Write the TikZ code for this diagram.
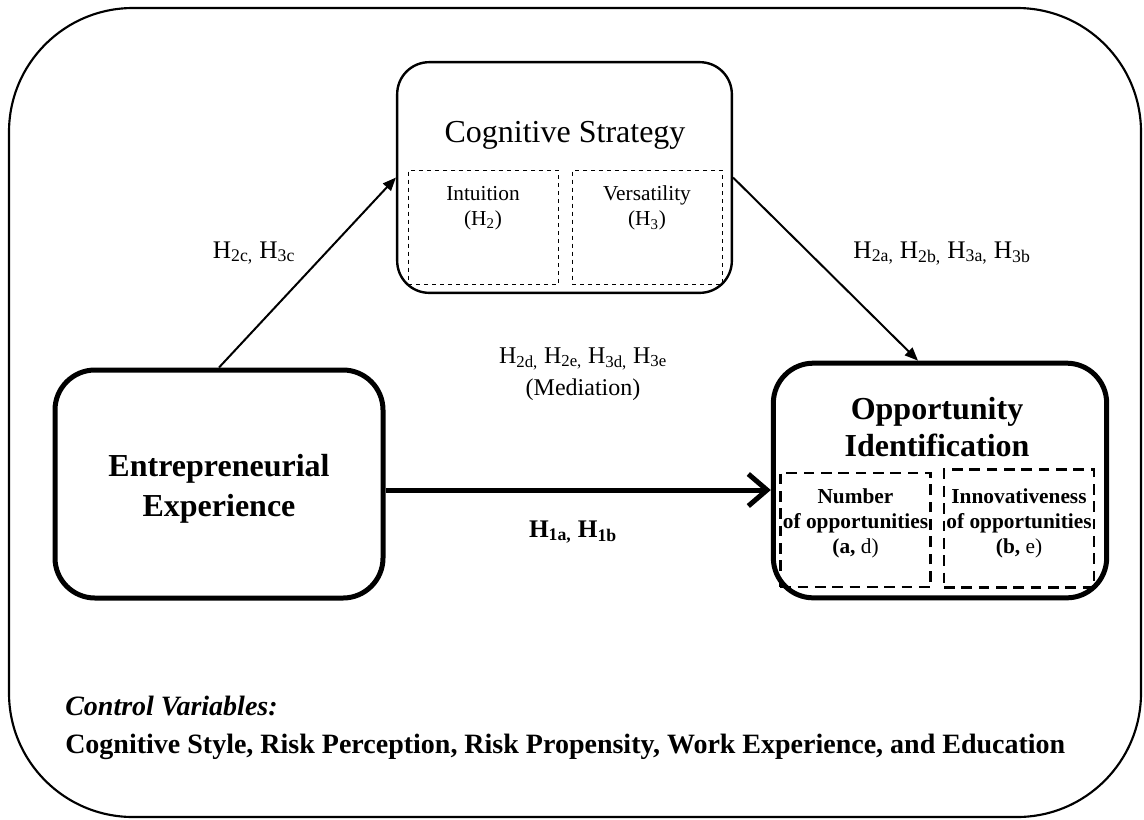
\documentclass[tikz,border=0pt]{standalone}
\usepackage{fontspec}
\setmainfont{Liberation Serif}
\usetikzlibrary{positioning}
\usetikzlibrary{calc}
\usetikzlibrary{arrows.meta}
\tikzset{box/.style = {draw, inner sep = 0, rounded corners = 30pt},
  thinbox/.style = {box, line width = 1.8pt, rounded corners = 24pt},
  thickbox/.style = {box, line width = 3.75pt},
  subbox/.style = {draw, dashed, line width = 0.75pt, inner sep = 0},
  boldsub/.style = {draw, line width = 2.2pt, dash pattern = on 8pt off 5pt, inner sep = 0},
  lbl/.style = {font = \fontsize{19}{24}\selectfont, align = center, inner sep = 0},
  sublbl/.style = {font = \fontsize{16}{19}\selectfont, align = center, inner sep = 0},
  thinarrow/.style = {line width = 1.5pt, -{Triangle[length = 10pt, width = 8pt]}},
  thickarrow/.style = {line width = 3.75pt, -{Straight Barb[length = 14pt, width = 24pt]}}}

\begin{document}
\begin{tikzpicture}[x = 0.75pt, y = -0.75pt]
    \useasboundingbox (0,0) rectangle (1144,819);
    \draw[line width = 1.6pt, rounded corners = 93pt] (9,8) rectangle (1141,817);
    % boxes
    \node[thinbox, minimum width = 251pt, minimum height = 173pt] (cog) at (564.5,177.5) {};
    \node[thickbox, minimum width = 246pt, minimum height = 171pt] (exp) at (219,484) {};
    \node[thickbox, minimum width = 250pt, minimum height = 176pt] (opp) at (940,480.5) {};
    \node[subbox, minimum width = 112.5pt, minimum height = 86pt] (intu) at (483,227.5) {};
    \node[subbox, minimum width = 112.5pt, minimum height = 86pt] (vers) at (647,227.5) {};
    \node[boldsub, minimum width = 113pt, minimum height = 85.5pt] (num) at (855.5,530) {};
    \node[boldsub, minimum width = 112.5pt, minimum height = 88pt] (inno) at (1019,528.5) {};
    % texts
    \node[anchor = base, font = \fontsize{24}{28}\selectfont] (cogtitle) at (565,142) {Cognitive Strategy};
    \node[sublbl] (intutext) at (483,208) {Intuition\\(H\textsubscript{2})};
    \node[sublbl] (verstext) at (647,208) {Versatility\\(H\textsubscript{3})};
    \node[align = center, font = \fontsize{24}{30}\bfseries\selectfont] (exptext) at (219,489)
        {Entrepreneurial\\Experience};
    \node[align = center, font = \fontsize{24}{28}\bfseries\selectfont] (opptext) at (937,427)
        {Opportunity\\Identification};
    \node[sublbl, font = \fontsize{16}{18.75}\bfseries\selectfont] (numtext) at (855.5,523)
        {Number\\of opportunities\\(\textbf{a}, \mdseries d)};
    \node[sublbl, font = \fontsize{16}{18.75}\bfseries\selectfont] (innotext) at (1019,523)
        {Innovativeness\\of opportunities\\(\textbf{b}, \mdseries e)};
    % arrows
    \coordinate (tipb) at ($(opp.north)+(-22,0)$);
    \coordinate (h1) at ($(exp.east)+(0,6)$);
    \draw[thinarrow] (exp.north) -- (cog.west);
    \draw[thinarrow] (cog.east) -- (tipb);
    \draw[thickarrow] (h1) -- (h1 -| opp.west);
    % labels
    \node[lbl, anchor = base] (hc) at (254,258) {H\textsubscript{2c,} H\textsubscript{3c}};
    \node[lbl, anchor = base] (hab) at (942,258)
        {H\textsubscript{2a,} H\textsubscript{2b,} H\textsubscript{3a,} H\textsubscript{3b}};
    \node[lbl, font = \fontsize{18}{24}\selectfont] (hmed) at (583,374)
        {H\textsubscript{2d,} H\textsubscript{2e,} H\textsubscript{3d,} H\textsubscript{3e}\\(Mediation)};
    \node[lbl, anchor = base, font = \fontsize{19}{24}\bfseries\selectfont] (hone) at (573,537)
        {H\textsubscript{1a,} H\textsubscript{1b}};
    \node[anchor = base west, inner sep = 0, font = \fontsize{21}{25}\bfseries\itshape\selectfont] (ctrl) at (65,715)
        {Control Variables:};
    \node[anchor = base west, inner sep = 0, font = \fontsize{21}{25}\bfseries\selectfont] (ctrllist) at (65,753)
        {Cognitive Style, Risk Perception, Risk Propensity, Work Experience, and Education};
  \end{tikzpicture}
\end{document}
